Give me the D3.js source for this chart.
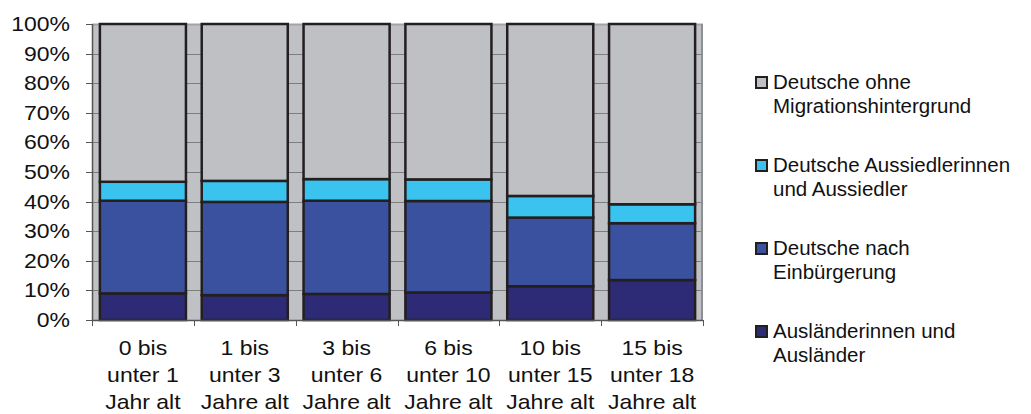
<!DOCTYPE html>
<html>
<head>
<meta charset="utf-8">
<script src="https://cdn.jsdelivr.net/npm/d3@7"></script>
<style>
  body { margin: 0; background: #fff; }
  text { font-family: "Liberation Sans", Arial, sans-serif; fill: #111; }
</style>
</head>
<body>
<div id="chart"></div>
<script>
// categories (each label split into its three lines)
var categories = [
  ["0 bis", "unter 1", "Jahr alt"],
  ["1 bis", "unter 3", "Jahre alt"],
  ["3 bis", "unter 6", "Jahre alt"],
  ["6 bis", "unter 10", "Jahre alt"],
  ["10 bis", "unter 15", "Jahre alt"],
  ["15 bis", "unter 18", "Jahre alt"]
];

// series, bottom to top, values in percent
var auslaender   = [9.0, 8.4, 8.8, 9.3, 11.4, 13.5];
var einbuergert  = [31.3, 31.5, 31.5, 30.9, 23.2, 19.2];
var aussiedler   = [6.4, 7.1, 7.3, 7.3, 7.3, 6.4];
var ohneMigration = [53.3, 53.0, 52.4, 52.5, 58.1, 60.9];

var seriesNames = [
  ["Ausländerinnen und", "Ausländer"],
  ["Deutsche nach", "Einbürgerung"],
  ["Deutsche Aussiedlerinnen", "und Aussiedler"],
  ["Deutsche ohne", "Migrationshintergrund"]
];
var seriesColors = ["#2e2b76", "#3a51a0", "#3ac3ee", "#bfc0c4"];
var yTicks = [0, 10, 20, 30, 40, 50, 60, 70, 80, 90, 100];

var W = 1031, H = 414;
var plot = {left: 92, right: 703, top: 24, bottom: 320};

var svg = d3.select("#chart").append("svg")
  .attr("width", W)
  .attr("height", H);

// build rows for the stack
var keys = ["a", "b", "c", "d"];
var rows = categories.map(function(c, i) {
  return {i: i, a: auslaender[i], b: einbuergert[i], c: aussiedler[i], d: ohneMigration[i]};
});
var stacked = d3.stack().keys(keys)(rows);

var x = d3.scaleBand()
  .domain(d3.range(categories.length))
  .range([plot.left, plot.right])
  .paddingInner(0.155)
  .paddingOuter(0.0775);

var y = d3.scaleLinear()
  .domain([0, 100])
  .range([plot.bottom, plot.top]);

// plot background
svg.append("rect")
  .attr("x", plot.left)
  .attr("y", plot.top)
  .attr("width", plot.right - plot.left)
  .attr("height", plot.bottom - plot.top)
  .attr("fill", "#c0c1c5");

// gridlines
svg.append("g")
  .selectAll("line")
  .data(yTicks.filter(d => d > 0))
  .enter()
  .append("line")
    .attr("x1", plot.left)
    .attr("x2", plot.right)
    .attr("y1", d => Math.round(y(d)) + 0.5)
    .attr("y2", d => Math.round(y(d)) + 0.5)
    .attr("stroke", d => d == 100 ? "#a3a4a7" : "#7d7e80")
    .attr("stroke-width", d => d == 100 ? 2 : 1);

// right border of plot area
svg.append("line")
  .attr("x1", plot.right - 1).attr("x2", plot.right - 1)
  .attr("y1", plot.top).attr("y2", plot.bottom)
  .attr("stroke", "#8e8f92")
  .attr("stroke-width", 2);

// bars
svg.append("g")
  .selectAll("g")
  .data(stacked)
  .enter()
  .append("g")
    .attr("fill", (d, i) => seriesColors[i])
  .selectAll("rect")
  .data(d => d)
  .enter()
  .append("rect")
    .attr("x", (d, i) => x(i))
    .attr("y", d => y(d[1]))
    .attr("width", x.bandwidth())
    .attr("height", d => y(d[0]) - y(d[1]))
    .attr("stroke", "#231f20")
    .attr("stroke-width", 2.5);

// y axis line and ticks
svg.append("line")
  .attr("x1", plot.left + 0.5).attr("x2", plot.left + 0.5)
  .attr("y1", plot.top).attr("y2", plot.bottom)
  .attr("stroke", "#555")
  .attr("stroke-width", 1.5);

svg.append("g")
  .selectAll("line")
  .data(yTicks)
  .enter()
  .append("line")
    .attr("x1", plot.left - 6)
    .attr("x2", plot.left)
    .attr("y1", d => Math.round(y(d)) + 0.5)
    .attr("y2", d => Math.round(y(d)) + 0.5)
    .attr("stroke", "#555");

// y labels, slightly widened like the original
svg.append("g")
  .selectAll("text")
  .data(yTicks)
  .enter()
  .append("text")
    .attr("transform", d => "translate(70," + (y(d) + 7) + ") scale(1.15,1)")
    .attr("text-anchor", "end")
    .attr("font-size", "20px")
    .text(d => d + "%");

// x axis line and ticks at category boundaries
svg.append("line")
  .attr("x1", plot.left).attr("x2", plot.right)
  .attr("y1", plot.bottom + 0.5).attr("y2", plot.bottom + 0.5)
  .attr("stroke", "#555")
  .attr("stroke-width", 1.5);

var step = x.step();
svg.append("g")
  .selectAll("line")
  .data(d3.range(categories.length + 1))
  .enter()
  .append("line")
    .attr("x1", d => Math.round(plot.left + d * step) + 0.5)
    .attr("x2", d => Math.round(plot.left + d * step) + 0.5)
    .attr("y1", plot.bottom)
    .attr("y2", plot.bottom + 6)
    .attr("stroke", "#555");

// x labels
var xl = svg.append("g")
  .selectAll("g")
  .data(categories)
  .enter()
  .append("g")
    .attr("transform", (d, i) => "translate(" + (x(i) + x.bandwidth() / 2) + ",0)");

xl.selectAll("text")
  .data(d => d)
  .enter()
  .append("text")
    .attr("transform", (d, j) => "translate(0," + (355 + j * 27) + ") scale(1.15,1)")
    .attr("text-anchor", "middle")
    .attr("font-size", "20px")
    .text(d => d);

// legend, top entry first
var legendOrder = [3, 2, 1, 0];
var lg = svg.append("g")
  .selectAll("g")
  .data(legendOrder)
  .enter()
  .append("g")
    .attr("transform", (d, k) => "translate(755," + (89 + k * 83) + ")");

lg.append("rect")
  .attr("x", 1)
  .attr("y", -12)
  .attr("width", 11)
  .attr("height", 11)
  .attr("fill", d => seriesColors[d])
  .attr("stroke", "#231f20")
  .attr("stroke-width", 2);

lg.selectAll("text")
  .data(d => seriesNames[d])
  .enter()
  .append("text")
    .attr("x", 18)
    .attr("y", (d, j) => j * 23.5)
    .attr("font-size", "20.5px")
    .text(d => d);
</script>
</body>
</html>
